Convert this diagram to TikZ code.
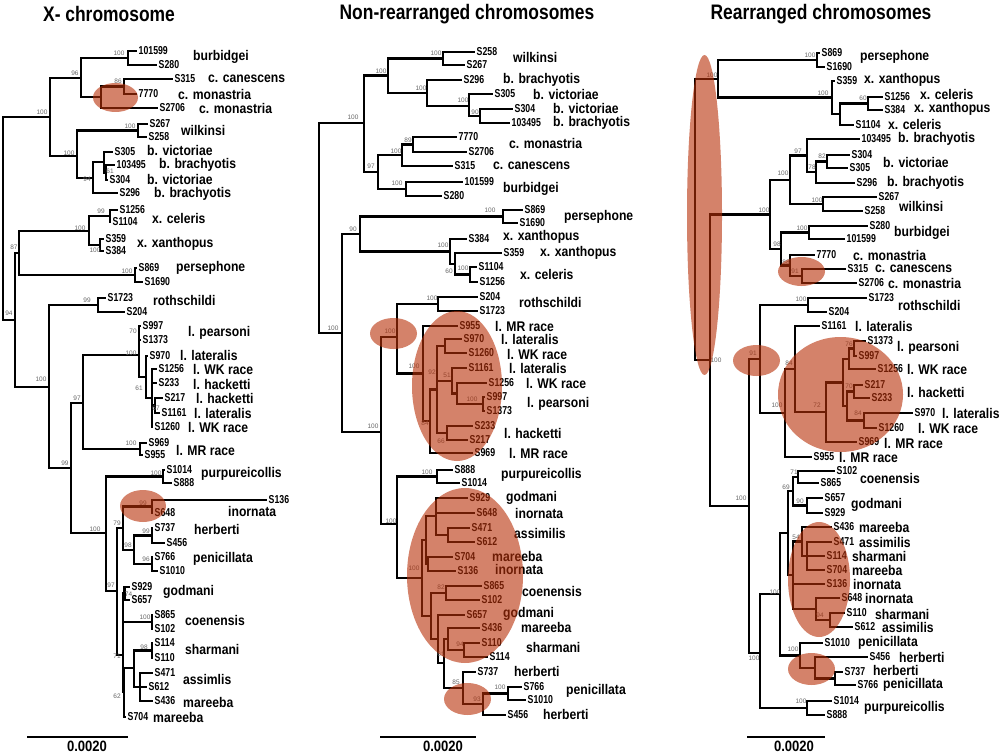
\documentclass[tikz,border=0pt]{standalone}
\usepackage{fontspec}
\setmainfont{Liberation Sans}
\newfontfamily\leaffont[FakeStretch=0.76]{Liberation Sans}
\newfontfamily\taxfont[FakeStretch=0.87]{Liberation Sans}
\newfontfamily\headfont[FakeStretch=0.83]{Liberation Sans}
\definecolor{hilite}{RGB}{183,47,7}
\tikzset{
	branch/.style = {line width=2.1pt},
	leaflab/.style = {anchor=west, inner sep=1.5pt, font=\leaffont\bfseries\fontsize{11.5}{12}\selectfont},
	taxlab/.style = {anchor=west, inner sep=0pt, font=\taxfont\bfseries\fontsize{14}{14}\selectfont},
	bootlab/.style = {inner sep=0pt, text=black!60, font=\fontsize{6.5}{7}\selectfont},
	headlab/.style = {font=\headfont\bfseries\fontsize{21}{24}\selectfont},
	scalelab/.style = {inner sep=0pt, font=\taxfont\bfseries\fontsize{15}{15}\selectfont},
	clademark/.style = {fill=hilite, fill opacity=0.6}
}
% leaf: name, tip x, y, sample
\newcommand{\leaf}[4]{\coordinate (#1) at (#2,#3); \node[leaflab] (#1t) at (#1) {#4};}
\newcommand{\clade}[3]{\coordinate (#1) at (#2,#3);}
\newcommand{\boot}[4]{\node[bootlab] (#1b) at (#2,#3) {#4};}
\newcommand{\taxon}[4]{\node[taxlab] (#1) at (#2,#3) {#4};}

\begin{document}
\begin{tikzpicture}[x=1pt, y=-1pt]
\useasboundingbox (0,0) rectangle (1000,754);

%% X- chromosome
\node[headlab] (xhead) at (109,14) {X- chromosome};
\leaf{x101599}{137}{51}{101599}
\leaf{xS280}{157}{65}{S280}
\leaf{xS315}{173}{79}{S315}
\leaf{x7770}{137}{94}{7770}
\leaf{xS2706}{158}{108}{S2706}
\leaf{xS267}{148}{124}{S267}
\leaf{xS258}{147}{137}{S258}
\leaf{xS305}{113}{152}{S305}
\leaf{x103495}{115}{165}{103495}
\leaf{xS304}{108}{180}{S304}
\leaf{xS296}{118}{193}{S296}
\leaf{xS1256}{118}{210}{S1256}
\leaf{xS1104}{111}{222}{S1104}
\leaf{xS359}{104}{239}{S359}
\leaf{xS384}{104}{251}{S384}
\leaf{xS869}{137}{268}{S869}
\leaf{xS1690}{143}{282}{S1690}
\leaf{xS1723}{106}{298}{S1723}
\leaf{xS204}{125}{312}{S204}
\leaf{xS997}{141}{326}{S997}
\leaf{xS1373}{141}{340}{S1373}
\leaf{xS970}{148}{356}{S970}
\leaf{xS1256w}{157}{369}{S1256}
\leaf{xS233}{157}{383}{S233}
\leaf{xS217}{163}{398}{S217}
\leaf{xS1161}{160}{413}{S1161}
\leaf{xS1260}{153}{427}{S1260}
\leaf{xS969}{147}{443}{S969}
\leaf{xS955}{143}{455}{S955}
\leaf{xS1014}{165}{470}{S1014}
\leaf{xS888}{172}{483}{S888}
\leaf{xS136}{267}{500}{S136}
\leaf{xS648}{153}{513}{S648}
\leaf{xS737}{153}{528}{S737}
\leaf{xS456}{165}{543}{S456}
\leaf{xS766}{153}{557}{S766}
\leaf{xS1010}{158}{571}{S1010}
\leaf{xS929}{130}{587}{S929}
\leaf{xS657}{130}{600}{S657}
\leaf{xS865}{153}{615}{S865}
\leaf{xS102}{153}{629}{S102}
\leaf{xS114}{153}{643}{S114}
\leaf{xS110}{153}{658}{S110}
\leaf{xS471}{153}{673}{S471}
\leaf{xS612}{147}{687}{S612}
\leaf{xS436}{153}{701}{S436}
\leaf{xS704}{126}{717}{S704}

\clade{xroot}{3}{218} \clade{xA}{50}{117} \clade{x96}{81}{78} \clade{xBurb}{128}{58}
\clade{xC}{101}{97} \clade{x86}{124}{86.5} \clade{xW}{77}{156} \clade{xWilk}{138}{130.5}
\clade{x94b}{93}{178} \clade{xB1}{104}{162} \clade{x61}{106}{172.5}
\clade{x94}{15}{320} \clade{x87}{19}{253} \clade{xXc}{89}{231} \clade{x99}{110}{216}
\clade{xXan}{100}{245} \clade{xPers}{135}{275} \clade{x100b}{49}{387} \clade{xRoth}{98}{305}
\clade{x99b}{71}{468} \clade{x97}{83}{403} \clade{xL}{139}{355} \clade{x70}{139}{333}
\clade{x61b}{146}{377} \clade{xL1}{152}{398} \clade{x67}{155}{405.5} \clade{xMR}{140}{449}
\clade{x100c}{106}{533} \clade{xPurp}{163}{476.5} \clade{x97b}{117}{591} \clade{x79}{123}{528}
\clade{x99i}{152}{506.5} \clade{x98}{134}{550} \clade{xHerb}{152}{535.5} \clade{xPen}{152}{564}
\clade{x71}{123}{655} \clade{x74}{124.5}{593.5} \clade{xCoen}{152}{622} \clade{x62}{124}{692}
\clade{xShas}{134}{668} \clade{xSh}{152}{650.5} \clade{xAsm}{140}{687}

\foreach \p/\c in {xroot/xA, xroot/x94, xA/x96, xA/xW, x96/xBurb, x96/xC,
	xBurb/x101599, xBurb/xS280, xC/x86, xC/xS2706, x86/xS315, x86/x7770,
	xW/xWilk, xW/x94b, xWilk/xS267, xWilk/xS258, x94b/xB1, x94b/xS296,
	xB1/xS305, xB1/x61, x61/x103495, x61/xS304,
	x94/x87, x94/x100b, x87/xXc, x87/xPers, xXc/x99, xXc/xXan,
	x99/xS1256, x99/xS1104, xXan/xS359, xXan/xS384, xPers/xS869, xPers/xS1690,
	x100b/xRoth, x100b/x99b, xRoth/xS1723, xRoth/xS204, x99b/x97, x99b/x100c,
	x97/xL, x97/xMR, xL/x70, xL/x61b, x70/xS997, x70/xS1373, x61b/xS970, x61b/xL1,
	xL1/xS1256w, xL1/xS233, xL1/x67, xL1/xS1260, x67/xS217, x67/xS1161,
	xMR/xS969, xMR/xS955, x100c/xPurp, x100c/x97b, xPurp/xS1014, xPurp/xS888,
	x97b/x79, x97b/x71, x79/x99i, x79/x98, x99i/xS136, x99i/xS648,
	x98/xHerb, x98/xPen, xHerb/xS737, xHerb/xS456, xPen/xS766, xPen/xS1010,
	x71/x74, x71/xCoen, x71/x62, x74/xS929, x74/xS657, xCoen/xS865, xCoen/xS102,
	x62/xShas, x62/xS704, xShas/xSh, xShas/xAsm, xSh/xS114, xSh/xS110,
	xAsm/xS471, xAsm/xS612, xAsm/xS436}
	\draw[branch] (\p) |- (\c);

\boot{xBurb}{119}{53}{100} \boot{x96}{75}{73}{96} \boot{x86}{118}{81}{86}
\boot{xA}{42}{112}{100} \boot{xWilk}{130}{126}{100} \boot{xW}{69}{153}{100}
\boot{x61}{110}{171}{61} \boot{x94b}{87}{179}{94} \boot{x99}{101}{211}{99}
\boot{xXc}{80}{228}{100} \boot{xXan}{95}{250}{100} \boot{x87}{14}{247}{87}
\boot{xPers}{127}{271}{100} \boot{x94}{9}{313}{94} \boot{xRoth}{87}{300}{99}
\boot{x70}{133}{331}{70} \boot{xL}{131}{353}{100} \boot{x61b}{139}{388}{61}
\boot{x67}{156}{408}{67} \boot{x97}{77}{398}{97} \boot{xMR}{131}{443}{100}
\boot{x100b}{41}{379}{100} \boot{x99b}{65}{463}{99} \boot{xPurp}{156}{473}{100}
\boot{x99i}{143}{503}{99} \boot{x79}{117}{523}{79} \boot{xHerb}{146}{531}{99}
\boot{x98}{128}{545}{98} \boot{xPen}{146}{559}{96} \boot{x100c}{95}{529}{100}
\boot{x97b}{111}{585}{97} \boot{x74}{128.5}{594}{74} \boot{xCoen}{145}{617}{100}
\boot{xSh}{144}{647}{98} \boot{x71}{117}{656}{71} \boot{x62}{117}{696}{62}

\taxon{xt1}{193}{57}{burbidgei}
\taxon{xt2}{208}{79}{c. canescens}
\taxon{xt3}{178}{94}{c. monastria}
\taxon{xt4}{199}{108}{c. monastria}
\taxon{xt5}{181}{130}{wilkinsi}
\taxon{xt6}{147}{150.5}{b. victoriae}
\taxon{xt7}{159}{165}{b. brachyotis}
\taxon{xt8}{147}{179.5}{b. victoriae}
\taxon{xt9}{154}{194}{b. brachyotis}
\taxon{xt10}{152}{218}{x. celeris}
\taxon{xt11}{137}{244}{x. xanthopus}
\taxon{xt12}{176}{268}{persephone}
\taxon{xt13}{153}{300}{rothschildi}
\taxon{xt14}{188}{333}{l. pearsoni}
\taxon{xt15}{180}{355}{l. lateralis}
\taxon{xt16}{193}{369}{l. WK race}
\taxon{xt17}{193}{384}{l. hacketti}
\taxon{xt18}{196}{398}{l. hacketti}
\taxon{xt19}{194}{413}{l. lateralis}
\taxon{xt20}{188}{427}{l. WK race}
\taxon{xt21}{176}{450}{l. MR race}
\taxon{xt22}{201}{474}{purpureicollis}
\taxon{xt23}{228}{511}{inornata}
\taxon{xt24}{194}{529}{herberti}
\taxon{xt25}{193}{559}{penicillata}
\taxon{xt26}{163}{592}{godmani}
\taxon{xt27}{185}{620}{coenensis}
\taxon{xt28}{185}{649}{sharmani}
\taxon{xt29}{183}{679}{assimlis}
\taxon{xt30}{183}{702}{mareeba}
\taxon{xt31}{153}{717}{mareeba}

\coordinate (xsa) at (27,737); \coordinate (xsb) at (128,737);
\draw[branch] (xsa) -- (xsb);
\node[scalelab] (xscale) at (87,746) {0.0020};

%% Non-rearranged chromosomes
\node[headlab] (nhead) at (467,14) {Non-rearranged chromosomes};
\leaf{nS258}{475}{52}{S258}
\leaf{nS267}{465}{65}{S267}
\leaf{nS296}{462}{80}{S296}
\leaf{nS305}{493}{94}{S305}
\leaf{nS304}{513}{109}{S304}
\leaf{n103495}{510}{123}{103495}
\leaf{n7770}{457}{137}{7770}
\leaf{nS2706}{467}{152}{S2706}
\leaf{nS315}{453}{166}{S315}
\leaf{n101599}{463}{182}{101599}
\leaf{nS280}{442}{196}{S280}
\leaf{nS869}{523}{210}{S869}
\leaf{nS1690}{518}{223}{S1690}
\leaf{nS384}{467}{239}{S384}
\leaf{nS359}{502}{253}{S359}
\leaf{nS1104}{477}{267}{S1104}
\leaf{nS1256}{478}{282}{S1256}
\leaf{nS204}{478}{297}{S204}
\leaf{nS1723}{478}{311}{S1723}
\leaf{nS955}{458}{326}{S955}
\leaf{nS970}{462}{339}{S970}
\leaf{nS1260}{467}{353}{S1260}
\leaf{nS1161}{467}{368}{S1161}
\leaf{nS1256w}{487}{383}{S1256}
\leaf{nS997}{485}{397}{S997}
\leaf{nS1373}{485}{411}{S1373}
\leaf{nS233}{473}{426}{S233}
\leaf{nS217}{468}{440}{S217}
\leaf{nS969}{473}{453}{S969}
\leaf{nS888}{453}{470}{S888}
\leaf{nS1014}{460}{483}{S1014}
\leaf{nS929}{468}{498}{S929}
\leaf{nS648}{475}{513}{S648}
\leaf{nS471}{470}{528}{S471}
\leaf{nS612}{475}{542}{S612}
\leaf{nS704}{453}{557}{S704}
\leaf{nS136}{456}{571}{S136}
\leaf{nS865}{482}{586}{S865}
\leaf{nS102}{480}{600}{S102}
\leaf{nS657}{465}{615}{S657}
\leaf{nS436}{480}{628}{S436}
\leaf{nS110}{480}{643}{S110}
\leaf{nS114}{488}{657}{S114}
\leaf{nS737}{476}{672}{S737}
\leaf{nS766}{522}{687}{S766}
\leaf{nS1010}{526}{700}{S1010}
\leaf{nS456}{506}{715}{S456}

\clade{nroot}{319}{227.5} \clade{nA}{364}{123} \clade{nWB}{388}{75.5} \clade{nWilk}{443}{58.5}
\clade{nBb}{427}{93} \clade{n478}{469}{106} \clade{n90b}{480}{116} \clade{n97}{378}{172}
\clade{nC}{402}{155} \clade{n89}{413}{144.5} \clade{nBurb}{406}{189}
\clade{n342}{342}{333} \clade{n90}{360}{234} \clade{nPers}{503}{216.5} \clade{nX}{450}{251.5}
\clade{n60}{455}{264} \clade{nCel}{470}{274.5}
\clade{n381}{381}{432} \clade{nR}{397}{337} \clade{nRoth}{438}{304} \clade{nL}{423}{373.5}
\clade{n84}{430}{421} \clade{n92}{437}{389.5} \clade{n970}{445}{346} \clade{n51}{452}{381}
\clade{n1256}{457}{393.5} \clade{nPear}{483}{404} \clade{nHack}{447}{433}
\clade{nP}{397}{524} \clade{nPurp}{437}{476.5} \clade{nBig}{422}{578} \clade{nTop}{426}{540}
\clade{nG1}{436}{516} \clade{nAs}{448}{535} \clade{nMI}{428}{564} \clade{nCo2}{431}{616}
\clade{nCoen}{446}{593} \clade{nGM}{438}{639} \clade{nLow}{444}{663} \clade{nSh2}{448}{639}
\clade{nSh}{464}{650} \clade{n85}{463}{688} \clade{n93}{483}{704} \clade{nPen}{508}{693.5}

\foreach \p/\c in {nroot/nA, nroot/n342, nA/nWB, nA/n97, nWB/nWilk, nWB/nBb,
	nWilk/nS258, nWilk/nS267, nBb/nS296, nBb/n478, n478/nS305, n478/n90b,
	n90b/nS304, n90b/n103495, n97/nC, n97/nBurb, nC/n89, nC/nS315,
	n89/n7770, n89/nS2706, nBurb/n101599, nBurb/nS280,
	n342/n90, n342/n381, n90/nPers, n90/nX, nPers/nS869, nPers/nS1690,
	nX/nS384, nX/n60, n60/nS359, n60/nCel, nCel/nS1104, nCel/nS1256,
	n381/nR, n381/nP, nR/nRoth, nR/nL, nRoth/nS204, nRoth/nS1723,
	nL/nS955, nL/n84, n84/n92, n84/nS969, n92/n970, n92/n51, n92/nHack,
	n970/nS970, n970/nS1260, n51/nS1161, n51/n1256, n1256/nS1256w, n1256/nPear,
	nPear/nS997, nPear/nS1373, nHack/nS233, nHack/nS217,
	nP/nPurp, nP/nBig, nPurp/nS888, nPurp/nS1014, nBig/nTop, nBig/nCo2,
	nTop/nG1, nTop/nMI, nG1/nS929, nG1/nS648, nG1/nAs, nAs/nS471, nAs/nS612,
	nMI/nS704, nMI/nS136, nCo2/nCoen, nCo2/nGM, nCoen/nS865, nCoen/nS102,
	nGM/nS657, nGM/nLow, nLow/nSh2, nLow/n85, nSh2/nS436, nSh2/nSh,
	nSh/nS110, nSh/nS114, n85/nS737, n85/n93, n93/nPen, n93/nS456,
	nPen/nS766, nPen/nS1010}
	\draw[branch] (\p) |- (\c);

\boot{nWilk}{436}{53}{100} \boot{nWB}{381}{71}{100} \boot{nBb}{421}{88}{100}
\boot{n478}{463}{100}{100} \boot{n90b}{475}{112}{90} \boot{nA}{353}{117}{100}
\boot{n89}{408}{140}{89} \boot{nC}{396}{151}{100} \boot{n97}{371}{166}{97}
\boot{nBurb}{397}{183}{100} \boot{nPers}{490}{210}{100} \boot{n90}{353}{229}{90}
\boot{nX}{443}{245}{100} \boot{n60}{449}{271}{60} \boot{nCel}{463}{268}{100}
\boot{nRoth}{432}{298}{100} \boot{nR}{390}{331}{100} \boot{n342}{333}{328}{100}
\boot{nL}{414}{366}{100} \boot{n92}{432}{372}{92} \boot{n51}{447}{375}{51}
\boot{nPear}{472}{399}{100} \boot{n84}{425}{423}{84} \boot{nHack}{441}{441}{66}
\boot{n381}{373}{426}{100} \boot{nPurp}{427}{472}{100} \boot{nP}{391}{521}{100}
\boot{nBig}{414}{568}{100} \boot{nCoen}{441}{587}{82} \boot{nSh}{460}{644}{94}
\boot{nLow}{441}{654}{61} \boot{n85}{456}{682}{85} \boot{nPen}{500}{687}{100}
\boot{n93}{477}{699}{93}

\taxon{nt1}{513}{57}{wilkinsi}
\taxon{nt2}{503}{80}{b. brachyotis}
\taxon{nt3}{533}{94}{b. victoriae}
\taxon{nt4}{553}{108}{b. victoriae}
\taxon{nt5}{553}{123}{b. brachyotis}
\taxon{nt6}{509}{143}{c. monastria}
\taxon{nt7}{493}{166}{c. canescens}
\taxon{nt8}{503}{189}{burbidgei}
\taxon{nt9}{564}{217}{persephone}
\taxon{nt10}{503}{237}{x. xanthopus}
\taxon{nt11}{540}{253}{x. xanthopus}
\taxon{nt12}{520}{274}{x. celeris}
\taxon{nt13}{519}{302}{rothschildi}
\taxon{nt14}{495}{326}{l. MR race}
\taxon{nt15}{501}{339}{l. lateralis}
\taxon{nt16}{507}{354}{l. WK race}
\taxon{nt17}{509}{368}{l. lateralis}
\taxon{nt18}{526}{383}{l. WK race}
\taxon{nt19}{527}{404}{l. pearsoni}
\taxon{nt20}{504}{433}{l. hacketti}
\taxon{nt21}{509}{453}{l. MR race}
\taxon{nt22}{501}{475}{purpureicollis}
\taxon{nt23}{506}{498}{godmani}
\taxon{nt24}{515}{513}{inornata}
\taxon{nt25}{514}{533}{assimilis}
\taxon{nt26}{492}{556}{mareeba}
\taxon{nt27}{495}{569}{inornata}
\taxon{nt28}{522}{591}{coenensis}
\taxon{nt29}{503}{614}{godmani}
\taxon{nt30}{521}{627}{mareeba}
\taxon{nt31}{526}{647}{sharmani}
\taxon{nt32}{514}{671}{herberti}
\taxon{nt33}{566}{691}{penicillata}
\taxon{nt34}{543}{714}{herberti}

\coordinate (nsa) at (380,737); \coordinate (nsb) at (476,737);
\draw[branch] (nsa) -- (nsb);
\node[scalelab] (nscale) at (443,746) {0.0020};

%% Rearranged chromosomes
\node[headlab] (rhead) at (821,14) {Rearranged chromosomes};
\leaf{rS869}{820}{53}{S869}
\leaf{rS1690}{825}{67}{S1690}
\leaf{rS359}{835}{81}{S359}
\leaf{rS1256}{883}{97}{S1256}
\leaf{rS384}{883}{110}{S384}
\leaf{rS1104}{854}{125}{S1104}
\leaf{r103495}{860}{139}{103495}
\leaf{rS304}{850}{155}{S304}
\leaf{rS305}{848}{168}{S305}
\leaf{rS296}{855}{183}{S296}
\leaf{rS267}{877}{197}{S267}
\leaf{rS258}{863}{211}{S258}
\leaf{rS280}{868}{226}{S280}
\leaf{r101599}{845}{239}{101599}
\leaf{r7770}{815}{255}{7770}
\leaf{rS315}{846}{269}{S315}
\leaf{rS2706}{857}{283}{S2706}
\leaf{rS1723}{867}{298}{S1723}
\leaf{rS204}{827}{312}{S204}
\leaf{rS1161}{820}{326}{S1161}
\leaf{rS1373}{866}{341}{S1373}
\leaf{rS997}{857}{356}{S997}
\leaf{rS1256w}{876}{369}{S1256}
\leaf{rS217}{863}{385}{S217}
\leaf{rS233}{870}{398}{S233}
\leaf{rS970}{913}{413}{S970}
\leaf{rS1260}{877}{428}{S1260}
\leaf{rS969}{857}{442}{S969}
\leaf{rS955}{812}{457}{S955}
\leaf{rS102}{835}{471}{S102}
\leaf{rS865}{819}{483}{S865}
\leaf{rS657}{823}{498}{S657}
\leaf{rS929}{823}{513}{S929}
\leaf{rS436}{832}{527}{S436}
\leaf{rS471}{832}{542}{S471}
\leaf{rS114}{825}{556}{S114}
\leaf{rS704}{825}{570}{S704}
\leaf{rS136}{825}{584}{S136}
\leaf{rS648}{840}{598}{S648}
\leaf{rS110}{845}{613}{S110}
\leaf{rS612}{853}{627}{S612}
\leaf{rS1010}{823}{643}{S1010}
\leaf{rS456}{868}{657}{S456}
\leaf{rS737}{843}{672}{S737}
\leaf{rS766}{856}{685}{S766}
\leaf{rS1014}{832}{701}{S1014}
\leaf{rS888}{825}{715}{S888}

\clade{rroot}{695}{219.5} \clade{rTop}{718}{79} \clade{rPers}{817}{60} \clade{rX100}{832}{97.5}
\clade{rX2}{840}{114} \clade{r60}{868}{103.5}
\clade{r710}{710}{360} \clade{rC100}{770}{214.5} \clade{rB100}{790}{180} \clade{r97}{807}{155.5}
\clade{r78}{816}{172} \clade{r82}{827}{161.5} \clade{rWilk}{823}{204} \clade{r98}{781}{249}
\clade{rBurb}{809}{232.5} \clade{r88}{790}{265.5} \clade{r91c}{802}{276}
\clade{r749}{749}{506} \clade{r91}{760}{359} \clade{rRoth}{808}{305} \clade{rL100}{785}{413}
\clade{r84}{795}{369} \clade{r72}{826}{412} \clade{r843}{843}{382.5} \clade{r849}{849}{359}
\clade{r76}{854}{348.5} \clade{r847}{847}{406} \clade{r70}{854}{391.5} \clade{r84b}{864}{420.5}
\clade{r760}{760}{653} \clade{r780}{780}{594} \clade{rXX}{788}{533} \clade{r69}{793}{491}
\clade{r71}{798}{477} \clade{r90}{807}{505.5} \clade{rMar}{793}{575} \clade{r802}{802}{541.5}
\clade{r807}{807}{556} \clade{r648}{816}{609} \clade{r94}{830}{620} \clade{r800}{800}{655.5}
\clade{r815}{815}{668} \clade{r835}{835}{678.5} \clade{rPurp}{807}{708}

\foreach \p/\c in {rroot/rTop, rroot/r710, rTop/rPers, rTop/rX100,
	rPers/rS869, rPers/rS1690, rX100/rS359, rX100/rX2, rX2/r60, rX2/rS1104,
	r60/rS1256, r60/rS384, r710/rC100, r710/r749, rC100/rB100, rC100/r98,
	rB100/r97, rB100/rWilk, r97/r103495, r97/r78, r78/r82, r78/rS296,
	r82/rS304, r82/rS305, rWilk/rS267, rWilk/rS258, r98/rBurb, r98/r88,
	rBurb/rS280, rBurb/r101599, r88/r7770, r88/r91c, r91c/rS315, r91c/rS2706,
	r749/r91, r749/r760, r91/rRoth, r91/rL100, rRoth/rS1723, rRoth/rS204,
	rL100/r84, rL100/rS955, r84/rS1161, r84/r72, r72/r843, r72/rS969,
	r843/r849, r843/r847, r849/r76, r849/rS1256w, r76/rS1373, r76/rS997,
	r847/r70, r847/r84b, r70/rS217, r70/rS233, r84b/rS970, r84b/rS1260,
	r760/r780, r760/rPurp, r780/rXX, r780/r800, rXX/r69, rXX/rMar,
	r69/r71, r69/r90, r71/rS102, r71/rS865, r90/rS657, r90/rS929,
	rMar/r802, rMar/rS136, rMar/r648, r802/rS436, r802/r807,
	r807/rS471, r807/rS114, r807/rS704, r648/rS648, r648/r94,
	r94/rS110, r94/rS612, r800/rS1010, r800/r815, r815/rS456, r815/r835,
	r835/rS737, r835/rS766, rPurp/rS1014, rPurp/rS888}
	\draw[branch] (\p) |- (\c);

\boot{rPers}{810}{55}{100} \boot{rTop}{712}{75}{100} \boot{rX100}{823}{93}{100}
\boot{r60}{863}{98}{60} \boot{r97}{798}{151}{97} \boot{r82}{822}{156}{82}
\boot{r78}{812}{167}{78} \boot{rB100}{783}{173}{100} \boot{rWilk}{817}{200}{100}
\boot{rC100}{764}{210}{100} \boot{rBurb}{802}{228}{100} \boot{r98}{777}{244}{98}
\boot{r88}{786}{262}{88} \boot{r91c}{795}{271}{91} \boot{rRoth}{801}{299}{100}
\boot{r91}{753}{353}{91} \boot{r710}{716}{360}{100} \boot{r84}{789}{363}{84}
\boot{r76}{849}{344}{76} \boot{r70}{849}{386}{70} \boot{r84b}{858}{413}{84}
\boot{r72}{817}{405}{72} \boot{rL100}{777}{405}{100} \boot{r71}{794}{472}{71}
\boot{r69}{786}{487}{69} \boot{r749}{741}{498}{100} \boot{r90}{800}{501}{90}
\boot{r802}{796}{537}{54} \boot{r780}{775}{592}{100} \boot{r94}{820}{615}{94}
\boot{r800}{793}{649}{100} \boot{r760}{754}{658}{100} \boot{rPurp}{801}{701}{100}

\taxon{rt1}{860}{57}{persephone}
\taxon{rt2}{864}{80}{x. xanthopus}
\taxon{rt3}{920}{94}{x. celeris}
\taxon{rt4}{914}{109}{x. xanthopus}
\taxon{rt5}{888}{124}{x. celeris}
\taxon{rt6}{898}{139}{b. brachyotis}
\taxon{rt7}{883}{162}{b. victoriae}
\taxon{rt8}{887}{183}{b. brachyotis}
\taxon{rt9}{899}{206}{wilkinsi}
\taxon{rt10}{894}{233}{burbidgei}
\taxon{rt11}{853}{255}{c. monastria}
\taxon{rt12}{875}{269}{c. canescens}
\taxon{rt13}{888}{283}{c. monastria}
\taxon{rt14}{898}{305}{rothschildi}
\taxon{rt15}{855}{326}{l. lateralis}
\taxon{rt16}{897}{348}{l. pearsoni}
\taxon{rt17}{907}{369}{l. WK race}
\taxon{rt18}{907}{392}{l. hacketti}
\taxon{rt19}{942}{413}{l. lateralis}
\taxon{rt20}{918}{428}{l. WK race}
\taxon{rt21}{884}{443}{l. MR race}
\taxon{rt22}{839}{457}{l. MR race}
\taxon{rt23}{860}{478}{coenensis}
\taxon{rt24}{851}{505}{godmani}
\taxon{rt25}{859}{527}{mareeba}
\taxon{rt26}{859}{542}{assimilis}
\taxon{rt27}{852}{556}{sharmani}
\taxon{rt28}{852}{570}{mareeba}
\taxon{rt29}{853}{584}{inornata}
\taxon{rt30}{865}{598}{inornata}
\taxon{rt31}{875}{614}{sharmani}
\taxon{rt32}{882}{627}{assimilis}
\taxon{rt33}{858}{643}{penicillata}
\taxon{rt34}{899}{657}{herberti}
\taxon{rt35}{873}{670}{herberti}
\taxon{rt36}{883}{685}{penicillata}
\taxon{rt37}{864}{708}{purpureicollis}

\coordinate (rsa) at (747,737); \coordinate (rsb) at (825,737);
\draw[branch] (rsa) -- (rsb);
\node[scalelab] (rscale) at (794,746) {0.0020};

%% highlighted clades
\path[clademark] (115.5,97.5) ellipse [x radius=22.5pt, y radius=14.5pt];
\path[clademark] (143,506) ellipse [x radius=23pt, y radius=16pt];
\path[clademark] (393.5,333.5) ellipse [x radius=23.5pt, y radius=15.5pt];
\path[clademark] (457,386) ellipse [x radius=45pt, y radius=75pt];
\path[clademark] (465,575.5) ellipse [x radius=58pt, y radius=87.5pt];
\path[clademark] (467.5,699) ellipse [x radius=23.5pt, y radius=16pt];
\path[clademark] (704.5,215) ellipse [x radius=17.5pt, y radius=160pt];
\path[clademark] (801.5,271.5) ellipse [x radius=23.5pt, y radius=14.5pt];
\path[clademark] (756.5,360.5) ellipse [x radius=23.5pt, y radius=15.5pt];
\path[clademark] (840.5,394.5) ellipse [x radius=62.5pt, y radius=57.5pt];
\path[clademark] (819,579.5) ellipse [x radius=31pt, y radius=57.5pt];
\path[clademark] (811.5,669) ellipse [x radius=23.5pt, y radius=16pt];

\end{tikzpicture}
\end{document}
